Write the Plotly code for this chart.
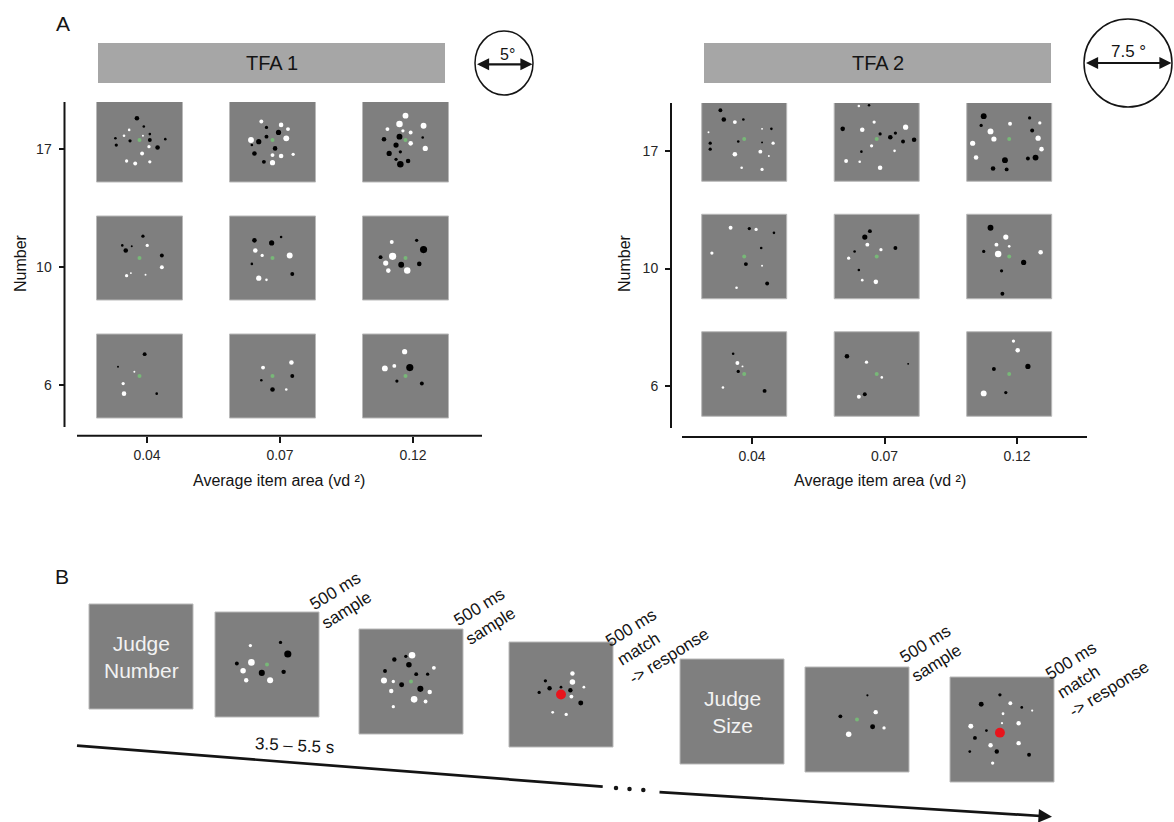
import plotly.graph_objects as go

W, H = 1174, 822
FONT = "Liberation Sans, Arial, Helvetica, sans-serif"
INK = "#141414"
SCREEN_GREY = "#7f7f7f"
SCREEN_EDGE = "#b9b9b9"
BANNER_GREY = "#a6a6a6"
FIX_GREEN = "#78b878"
DOT_COLOURS = {"b": "#000000", "w": "#ffffff", "r": "#e8141c"}

# ---------------------------------------------------------------- data
AREA_LABELS = ["0.04", "0.07", "0.12"]      # average item area (vd²)
NUMBER_LABELS = ["6", "10", "17"]           # numerosity
X_TITLE = "Average item area (vd ²)"
Y_TITLE = "Number"

# Dot displays: (u, v, diameter, colour); u, v are fractions of the display
# width / height (v measured downward), colour b = black, w = white, r = red.

# TFA 1 (5° field)
T1_17_004 = [(0.47, 0.24, 3.5, "b"), (0.55, 0.34, 2, "b"), (0.38, 0.38, 2, "w"), (0.22, 0.48, 2, "b"),
             (0.23, 0.56, 2.5, "b"), (0.32, 0.45, 2, "w"), (0.39, 0.51, 2.5, "b"), (0.54, 0.45, 1.5, "w"),
             (0.62, 0.43, 2, "b"), (0.62, 0.50, 3, "b"), (0.71, 0.59, 3.5, "b"), (0.80, 0.49, 2, "b"),
             (0.61, 0.58, 2.5, "w"), (0.53, 0.66, 3, "w"), (0.35, 0.75, 2.5, "w"), (0.45, 0.78, 3, "w"),
             (0.62, 0.76, 2.5, "w")]
T1_17_007 = [(0.37, 0.28, 3, "w"), (0.60, 0.32, 3.5, "w"), (0.68, 0.37, 3, "w"), (0.66, 0.48, 4.5, "w"),
             (0.25, 0.50, 4.5, "w"), (0.50, 0.68, 3, "w"), (0.60, 0.69, 3.5, "w"), (0.74, 0.67, 2.5, "w"),
             (0.50, 0.77, 4, "w"), (0.43, 0.35, 2.5, "b"), (0.57, 0.41, 4, "b"), (0.43, 0.46, 3, "b"),
             (0.34, 0.52, 4, "b"), (0.26, 0.56, 2, "b"), (0.53, 0.60, 3.5, "b"), (0.29, 0.66, 3.5, "b"),
             (0.40, 0.76, 3, "b")]
T1_17_012 = [(0.50, 0.21, 4.5, "w"), (0.43, 0.31, 5, "w"), (0.29, 0.37, 3, "w"), (0.47, 0.39, 2.5, "w"),
             (0.56, 0.41, 3, "w"), (0.71, 0.33, 4.5, "w"), (0.56, 0.54, 3.5, "w"), (0.73, 0.60, 4, "w"),
             (0.43, 0.46, 4.5, "b"), (0.25, 0.49, 3.5, "b"), (0.39, 0.56, 4, "b"), (0.70, 0.47, 2, "b"),
             (0.31, 0.66, 4, "b"), (0.44, 0.64, 2.5, "b"), (0.39, 0.73, 2.5, "b"), (0.44, 0.79, 5, "b"),
             (0.53, 0.75, 3.5, "b")]
T1_10_004 = [(0.54, 0.24, 2.5, "b"), (0.30, 0.35, 2, "b"), (0.34, 0.41, 3.5, "b"), (0.41, 0.36, 1.5, "b"),
             (0.59, 0.35, 2.5, "w"), (0.76, 0.47, 3, "b"), (0.76, 0.61, 3, "w"), (0.35, 0.71, 2.5, "w"),
             (0.40, 0.68, 1.5, "w"), (0.57, 0.70, 1.5, "w")]
T1_10_007 = [(0.29, 0.29, 3.5, "b"), (0.49, 0.32, 4, "b"), (0.60, 0.25, 2, "b"), (0.30, 0.41, 3.5, "w"),
             (0.38, 0.47, 2.5, "w"), (0.70, 0.47, 4.5, "w"), (0.26, 0.57, 2, "b"), (0.73, 0.69, 3, "b"),
             (0.34, 0.74, 4, "w"), (0.43, 0.76, 2, "w")]
T1_10_012 = [(0.34, 0.31, 3, "w"), (0.63, 0.29, 2.5, "b"), (0.71, 0.40, 5.5, "b"), (0.21, 0.49, 3, "b"),
             (0.35, 0.48, 5.5, "w"), (0.27, 0.56, 4, "w"), (0.45, 0.58, 4.5, "b"), (0.30, 0.65, 3.5, "w"),
             (0.52, 0.65, 5, "w"), (0.66, 0.57, 3.5, "b")]
T1_6_004 = [(0.56, 0.24, 3, "b"), (0.25, 0.39, 1.5, "b"), (0.44, 0.45, 1.5, "w"), (0.31, 0.59, 2.5, "w"),
            (0.32, 0.71, 3.5, "w"), (0.70, 0.71, 2, "b")]
T1_6_007 = [(0.39, 0.40, 3, "w"), (0.72, 0.34, 3.5, "w"), (0.37, 0.55, 2, "b"), (0.73, 0.50, 3, "b"),
            (0.50, 0.66, 3.5, "b"), (0.66, 0.66, 2, "w")]
T1_6_012 = [(0.49, 0.21, 4, "w"), (0.37, 0.38, 3, "w"), (0.26, 0.41, 4.5, "w"), (0.55, 0.40, 5.5, "b"),
            (0.40, 0.56, 2.5, "b"), (0.69, 0.59, 3, "b")]

# TFA 2 (7.5° field)
T2_17_004 = [(0.22, 0.16, 3, "b"), (0.26, 0.27, 3.5, "b"), (0.39, 0.30, 3, "w"), (0.49, 0.27, 2, "b"),
             (0.08, 0.42, 1.5, "w"), (0.10, 0.55, 2.5, "b"), (0.10, 0.62, 2.5, "b"), (0.43, 0.53, 2, "b"),
             (0.39, 0.68, 3.5, "w"), (0.47, 0.84, 2, "w"), (0.71, 0.38, 1.5, "w"), (0.82, 0.38, 2, "b"),
             (0.71, 0.54, 1.5, "b"), (0.84, 0.55, 2.5, "w"), (0.69, 0.65, 3, "w"), (0.79, 0.70, 1.5, "w"),
             (0.71, 0.86, 2.5, "w")]
T2_17_007 = [(0.29, 0.11, 2, "w"), (0.41, 0.10, 2, "b"), (0.47, 0.30, 2.5, "w"), (0.10, 0.38, 3.5, "b"),
             (0.33, 0.39, 3.5, "w"), (0.84, 0.36, 4, "w"), (0.54, 0.44, 2.5, "b"), (0.66, 0.48, 3.5, "b"),
             (0.72, 0.43, 2.5, "b"), (0.81, 0.53, 3, "b"), (0.94, 0.51, 3.5, "b"), (0.44, 0.58, 2.5, "w"),
             (0.71, 0.64, 2, "w"), (0.32, 0.65, 2, "b"), (0.14, 0.76, 3, "w"), (0.30, 0.77, 2, "w"),
             (0.54, 0.84, 3.5, "w")]
T2_17_012 = [(0.20, 0.23, 4.5, "b"), (0.17, 0.34, 2.5, "b"), (0.28, 0.41, 4.5, "w"), (0.32, 0.50, 4, "w"),
             (0.07, 0.55, 4, "w"), (0.11, 0.72, 3.5, "w"), (0.51, 0.32, 3, "w"), (0.74, 0.25, 2.5, "b"),
             (0.86, 0.31, 2.5, "w"), (0.77, 0.40, 3, "b"), (0.84, 0.49, 4, "w"), (0.88, 0.62, 3.5, "w"),
             (0.45, 0.75, 4.5, "b"), (0.31, 0.85, 3.5, "b"), (0.47, 0.86, 3, "b"), (0.72, 0.73, 3, "b"),
             (0.81, 0.72, 4.5, "b")]
T2_10_004 = [(0.34, 0.16, 3, "w"), (0.56, 0.17, 2.5, "b"), (0.64, 0.18, 2.5, "w"), (0.85, 0.22, 2, "b"),
             (0.12, 0.46, 2.5, "w"), (0.70, 0.40, 2, "b"), (0.52, 0.59, 3, "b"), (0.71, 0.61, 1.5, "w"),
             (0.41, 0.87, 2, "w"), (0.77, 0.82, 3, "b")]
T2_10_007 = [(0.42, 0.20, 3, "b"), (0.36, 0.27, 4, "b"), (0.39, 0.36, 3, "w"), (0.55, 0.42, 2.5, "w"),
             (0.72, 0.40, 3, "b"), (0.24, 0.44, 2, "b"), (0.17, 0.52, 2.5, "w"), (0.29, 0.66, 2, "b"),
             (0.33, 0.78, 2, "w"), (0.49, 0.80, 3.5, "w")]
T2_10_012 = [(0.28, 0.16, 4.5, "b"), (0.46, 0.27, 4, "w"), (0.35, 0.36, 3, "w"), (0.50, 0.38, 2, "w"),
             (0.20, 0.44, 2.5, "b"), (0.37, 0.47, 5, "w"), (0.87, 0.45, 3.5, "w"), (0.67, 0.57, 4, "b"),
             (0.41, 0.67, 2.5, "b"), (0.42, 0.94, 3, "b")]
T2_6_004 = [(0.37, 0.26, 2, "b"), (0.42, 0.37, 3, "w"), (0.48, 0.41, 1.5, "w"), (0.43, 0.47, 2.5, "b"),
            (0.25, 0.66, 2, "w"), (0.74, 0.70, 3, "b")]
T2_6_007 = [(0.15, 0.29, 3.5, "b"), (0.38, 0.36, 2.5, "w"), (0.87, 0.38, 1.5, "b"), (0.56, 0.54, 2, "w"),
            (0.36, 0.74, 3, "b"), (0.29, 0.77, 3, "w")]
T2_6_012 = [(0.55, 0.11, 2.5, "w"), (0.60, 0.22, 3.5, "w"), (0.72, 0.41, 4, "b"), (0.32, 0.44, 3, "b"),
            (0.46, 0.72, 2.5, "b"), (0.20, 0.73, 4.5, "w")]

# Trial sequence displays
B_SAMPLE_1 = [(0.34, 0.32, 3, "w"), (0.63, 0.29, 3, "b"), (0.70, 0.40, 6.5, "b"), (0.21, 0.49, 3.5, "b"),
              (0.35, 0.48, 6, "w"), (0.27, 0.56, 5, "w"), (0.45, 0.58, 5.5, "b"), (0.30, 0.65, 4, "w"),
              (0.53, 0.65, 5.5, "w"), (0.66, 0.57, 4, "b")]
B_SAMPLE_2 = [(0.34, 0.29, 4, "b"), (0.45, 0.26, 3, "b"), (0.51, 0.25, 6, "w"), (0.48, 0.34, 5, "b"),
              (0.25, 0.40, 3.5, "b"), (0.55, 0.43, 3.5, "b"), (0.66, 0.43, 3, "b"), (0.72, 0.37, 3.5, "w"),
              (0.24, 0.49, 5.5, "w"), (0.33, 0.50, 3, "w"), (0.41, 0.53, 4.5, "b"), (0.59, 0.57, 5.5, "b"),
              (0.31, 0.59, 4, "w"), (0.68, 0.60, 4, "w"), (0.53, 0.67, 6, "w"), (0.64, 0.69, 3.5, "w"),
              (0.33, 0.74, 3, "w")]
B_MATCH_1 = [(0.35, 0.37, 3, "b"), (0.39, 0.44, 4, "b"), (0.29, 0.48, 3, "b"), (0.50, 0.43, 2.5, "b"),
             (0.59, 0.46, 4, "b"), (0.69, 0.58, 4.5, "b"), (0.61, 0.30, 4, "w"), (0.61, 0.38, 5, "w"),
             (0.72, 0.43, 2.5, "w"), (0.60, 0.52, 3.5, "w"), (0.42, 0.67, 2.5, "w"), (0.55, 0.69, 3, "w"),
             (0.50, 0.50, 9, "r")]
B_SAMPLE_3 = [(0.60, 0.27, 2, "b"), (0.68, 0.43, 4, "w"), (0.34, 0.47, 3.5, "b"), (0.65, 0.57, 4.5, "b"),
              (0.76, 0.58, 3, "w"), (0.42, 0.64, 5, "w")]
B_MATCH_2 = [(0.48, 0.17, 3, "b"), (0.30, 0.26, 4.5, "b"), (0.69, 0.29, 2.5, "b"), (0.35, 0.51, 2.5, "b"),
             (0.24, 0.58, 3.5, "b"), (0.45, 0.71, 4, "b"), (0.19, 0.71, 2.5, "b"), (0.76, 0.74, 3.5, "b"),
             (0.58, 0.25, 3.5, "w"), (0.79, 0.32, 2, "w"), (0.51, 0.35, 2.5, "w"), (0.20, 0.47, 4.5, "w"),
             (0.66, 0.44, 4, "w"), (0.50, 0.44, 2, "w"), (0.39, 0.65, 4, "w"), (0.66, 0.63, 4, "w"),
             (0.41, 0.82, 3, "w"), (0.48, 0.53, 9, "r")]

TFA1_GRID = [[T1_6_004, T1_6_007, T1_6_012],
             [T1_10_004, T1_10_007, T1_10_012],
             [T1_17_004, T1_17_007, T1_17_012]]
TFA2_GRID = [[T2_6_004, T2_6_007, T2_6_012],
             [T2_10_004, T2_10_007, T2_10_012],
             [T2_17_004, T2_17_007, T2_17_012]]

TRIAL_CUE = ["Judge<br>Number", None, None, None, "Judge<br>Size", None, None]
TRIAL_DOTS = [None, B_SAMPLE_1, B_SAMPLE_2, B_MATCH_1, None, B_SAMPLE_3, B_MATCH_2]
TRIAL_FIXATION = [False, True, True, False, False, True, False]
TRIAL_NOTE = [None, "500 ms<br>sample", "500 ms<br>sample", "500 ms<br>match<br>-> response",
              None, "500 ms<br>sample", "500 ms<br>match<br>-> response"]
TIME_LABEL = "3.5 – 5.5 s"

# ---------------------------------------------------------------- layout constants (pixels)
A_DOT_SCALE = 1.3
B_DOT_SCALE = 1.1

PANELS = [
    dict(title="TFA 1", grid=TFA1_GRID, xa="x", ya="y",
         dom_x=(64.5, 482), dom_y=(102, 436), tick0=(147, 385), pitch=(133, 118),
         square=(86, 84), offset=(-7.5, -9),
         yline=(64.5, 102, 427), xline=(77, 482, 435.7),
         banner=(98, 445, 43, 83), circle=(475, 533, 31, 95), arrow_y=64.3,
         scale_text="5°", scale_xy=(507.5, 54), scale_size=16,
         ytitle_x=20, xtitle_x=279),
    dict(title="TFA 2", grid=TFA2_GRID, xa="x2", ya="y2",
         dom_x=(671, 1087), dom_y=(103, 437), tick0=(752, 386), pitch=(132.5, 117.5),
         square=(85, 84.5), offset=(-7.8, -12),
         yline=(671, 103, 428), xline=(682, 1087, 437),
         banner=(704, 1051, 43, 83), circle=(1084, 1172, 19, 107), arrow_y=63,
         scale_text="7.5 °", scale_xy=(1128, 51), scale_size=17,
         ytitle_x=624, xtitle_x=880),
]

SCREEN_W, SCREEN_H = 104, 105
SCREEN_LEFT = [89, 215, 359, 509, 680, 805, 950]
SCREEN_TOP = [604, 612, 629, 642, 659, 667, 677]
NOTE_XY = [None, (341, 600), (485, 616), (657, 637), None, (931, 653), (1097, 670)]
NOTE_ANGLE = -32

fig = go.Figure()
shapes, annotations = [], []


def overlay_line(x0, y0, x1, y1, width=2):
    shapes.append(dict(type="line", xref="x3", yref="y3", x0=x0, y0=y0, x1=x1, y1=y1,
                       line=dict(color=INK, width=width)))


def text(x, y, s, size, color=INK, angle=0, align="center"):
    annotations.append(dict(xref="x3", yref="y3", x=x, y=y, text=s, showarrow=False,
                            font=dict(family=FONT, size=size, color=color), textangle=angle,
                            align=align, xanchor="center", yanchor="middle"))


def dot_traces(points, xa, ya, fixations):
    for key in ("b", "w", "r"):
        sel = [p for p in points if p[3] == key]
        if not sel:
            continue
        fig.add_trace(go.Scatter(
            x=[p[0] for p in sel], y=[p[1] for p in sel], mode="markers", xaxis=xa, yaxis=ya,
            marker=dict(color=DOT_COLOURS[key], size=[p[2] for p in sel], opacity=1,
                        line=dict(width=0)),
            hoverinfo="skip", showlegend=False))
    if fixations:
        fig.add_trace(go.Scatter(
            x=[f[0] for f in fixations], y=[f[1] for f in fixations], mode="markers",
            xaxis=xa, yaxis=ya, marker=dict(color=FIX_GREEN, size=4, opacity=1, line=dict(width=0)),
            hoverinfo="skip", showlegend=False))


layout_axes = {}

# ---------------------------------------------------------------- panel A
for i, P in enumerate(PANELS):
    (dx0, dx1), (dy0, dy1) = P["dom_x"], P["dom_y"]
    (t0x, t0y), (ppx, ppy) = P["tick0"], P["pitch"]
    sw, sh = P["square"][0] / ppx, P["square"][1] / ppy
    ox, oy = P["offset"][0] / ppx, -P["offset"][1] / ppy
    xname = "xaxis" if i == 0 else f"xaxis{i + 1}"
    yname = "yaxis" if i == 0 else f"yaxis{i + 1}"
    tick_common = dict(tickvals=[0, 1, 2], ticks="outside", tickwidth=1.8, tickcolor=INK,
                       tickfont=dict(family=FONT, size=14, color="#262626"),
                       showline=False, showgrid=False, zeroline=False, fixedrange=True)
    layout_axes[xname] = dict(domain=[dx0 / W, dx1 / W],
                              range=[(dx0 - t0x) / ppx, (dx1 - t0x) / ppx],
                              ticktext=AREA_LABELS, ticklen=6, anchor=P["ya"], **tick_common)
    layout_axes[yname] = dict(domain=[1 - dy1 / H, 1 - dy0 / H],
                              range=[-(dy1 - t0y) / ppy, (t0y - dy0) / ppy],
                              ticktext=NUMBER_LABELS, ticklen=5, ticklabelstandoff=4,
                              anchor=P["xa"], **tick_common)

    points, fixes = [], []
    for r, row in enumerate(P["grid"]):
        for c, stim in enumerate(row):
            cx, cy = c + ox, r + oy
            shapes.append(dict(type="rect", xref=P["xa"], yref=P["ya"], layer="below",
                               x0=cx - sw / 2, x1=cx + sw / 2, y0=cy - sh / 2, y1=cy + sh / 2,
                               fillcolor=SCREEN_GREY, line=dict(color=SCREEN_EDGE, width=1)))
            for u, v, d, col in stim:
                points.append((cx + (u - 0.5) * sw, cy - (v - 0.5) * sh, d * A_DOT_SCALE, col))
            fixes.append((cx, cy))
    dot_traces(points, P["xa"], P["ya"], fixes)

    # offset axis lines
    lx, ly0, ly1 = P["yline"]
    overlay_line(lx, ly0, lx, ly1)
    bx0, bx1, by = P["xline"]
    overlay_line(bx0, by, bx1, by)

    # banner
    x0, x1, y0, y1 = P["banner"]
    shapes.append(dict(type="rect", xref="x3", yref="y3", x0=x0, x1=x1, y0=y0, y1=y1,
                       fillcolor=BANNER_GREY, line=dict(width=0), layer="below"))
    text((x0 + x1) / 2, (y0 + y1) / 2, P["title"], 20)

    # visual-angle scale
    cx0, cx1, cy0, cy1 = P["circle"]
    shapes.append(dict(type="circle", xref="x3", yref="y3", x0=cx0, x1=cx1, y0=cy0, y1=cy1,
                       line=dict(color=INK, width=1.5)))
    annotations.append(dict(xref="x3", yref="y3", axref="x3", ayref="y3",
                            x=cx1 - 0.5, y=P["arrow_y"], ax=cx0 + 0.5, ay=P["arrow_y"], text="",
                            showarrow=True, arrowhead=2, arrowside="end+start", arrowsize=1.1,
                            arrowwidth=2.2, arrowcolor=INK, standoff=0, startstandoff=0))
    text(P["scale_xy"][0], P["scale_xy"][1], P["scale_text"], P["scale_size"])

    # axis titles
    text(P["ytitle_x"], 263, Y_TITLE, 16, angle=-90)
    text(P["xtitle_x"], 480, X_TITLE, 16)

text(63, 23, "A", 21)
text(62, 576, "B", 21)

# ---------------------------------------------------------------- panel B: trial sequence
b_points, b_fixes = [], []
for k in range(len(SCREEN_LEFT)):
    x0, y0 = SCREEN_LEFT[k], SCREEN_TOP[k]
    shapes.append(dict(type="rect", xref="x3", yref="y3", layer="below",
                       x0=x0, x1=x0 + SCREEN_W, y0=y0, y1=y0 + SCREEN_H,
                       fillcolor=SCREEN_GREY, line=dict(color=SCREEN_EDGE, width=1)))
    cx, cy = x0 + SCREEN_W / 2, y0 + SCREEN_H / 2
    if TRIAL_CUE[k]:
        text(cx, cy, TRIAL_CUE[k], 21, color="#f2f2f2")
    if TRIAL_DOTS[k]:
        for u, v, d, col in TRIAL_DOTS[k]:
            b_points.append((x0 + u * SCREEN_W, y0 + v * SCREEN_H, d * B_DOT_SCALE, col))
    if TRIAL_FIXATION[k]:
        b_fixes.append((cx, cy))
    if TRIAL_NOTE[k]:
        nx, ny = NOTE_XY[k]
        text(nx, ny, TRIAL_NOTE[k], 17, angle=NOTE_ANGLE, align="left")
dot_traces(b_points, "x3", "y3", b_fixes)

# time line with an elided stretch
fig.add_trace(go.Scatter(x=[77, 602.7], y=[745.7, 786.7], mode="lines", xaxis="x3", yaxis="y3",
                         line=dict(color=INK, width=2.7), hoverinfo="skip", showlegend=False))
fig.add_trace(go.Scatter(x=[616, 629.5, 643.3], y=[788, 789, 790], mode="markers", xaxis="x3",
                         yaxis="y3", marker=dict(color=INK, size=4.5, opacity=1), hoverinfo="skip",
                         showlegend=False))
annotations.append(dict(xref="x3", yref="y3", axref="x3", ayref="y3", x=1052, y=816.7,
                        ax=658, ay=792, text="", showarrow=True, arrowhead=2, arrowsize=1,
                        arrowwidth=2.7, arrowcolor=INK, standoff=0))
text(294, 745, TIME_LABEL, 17, angle=3)

layout_axes["xaxis3"] = dict(domain=[0, 1], range=[0, W], visible=False, fixedrange=True, anchor="y3")
layout_axes["yaxis3"] = dict(domain=[0, 1], range=[H, 0], visible=False, fixedrange=True, anchor="x3")

fig.update_layout(
    width=W, height=H, margin=dict(l=0, r=0, t=0, b=0),
    paper_bgcolor="white", plot_bgcolor="rgba(0,0,0,0)",
    font=dict(family=FONT, color=INK), showlegend=False,
    shapes=shapes, annotations=annotations, **layout_axes)

fig.write_html("out.html")
